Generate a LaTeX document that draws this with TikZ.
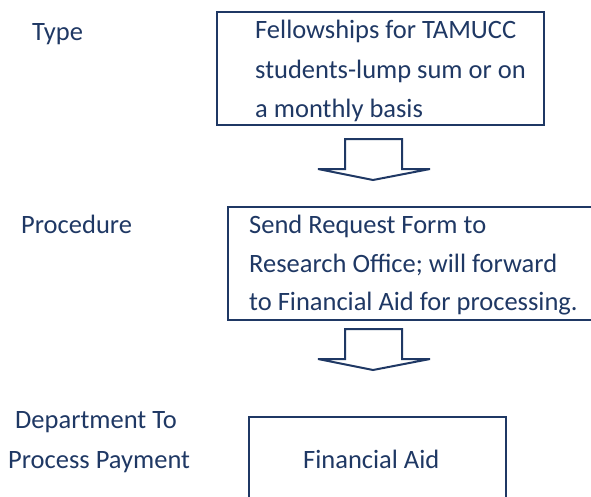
\documentclass[tikz,border=0pt]{standalone}
\usepackage{fontspec}
\setmainfont{Carlito}
\definecolor{navy}{RGB}{31,56,100}
\begin{document}
\begin{tikzpicture}[x=1pt,y=-1pt,
  txt/.style={inner sep=0pt,anchor=base west,text=navy,font=\fontsize{26.5}{39.5}\selectfont},
  boxline/.style={draw=navy,line width=2pt},
  blockarrow/.style={draw=navy,line width=2pt,fill=white,line join=miter}]
\useasboundingbox (0,0) rectangle (591,496);
\begin{scope}
\clip (0,0) rectangle (591,496);
% boxes
\draw[boxline] (217,12) rectangle (544,125);
\draw[boxline] (228,207) rectangle (600,320);
\draw[boxline] (249,417) rectangle (506,520);
% arrows
\draw[blockarrow] (345,139) -- (402,139) -- (402,169) -- (430,169) -- (373,180) -- (318,169) -- (345,169) -- cycle;
\draw[blockarrow] (345,329) -- (402,329) -- (402,359) -- (430,359) -- (373,370) -- (318,359) -- (345,359) -- cycle;
\end{scope}
% left labels
\node[txt] (type) at (32,40) {Type};
\node[txt] (proc) at (21,233) {Procedure};
\node[txt] (dept) at (15,428) {Department To};
\node[txt] (pay) at (8,468) {Process Payment};
% box texts
\node[txt] (t1) at (255,38) {Fellowships for TAMUCC};
\node[txt] (t2) at (255,78) {students-lump sum or on};
\node[txt] (t3) at (255,117) {a monthly basis};
\node[txt] (p1) at (249,233) {Send Request Form to};
\node[txt] (p2) at (249,272) {Research Office; will forward};
\node[txt] (p3) at (249,310) {to Financial Aid for processing.};
\node[txt] (fa) at (303,468) {Financial Aid};
\end{tikzpicture}
\end{document}
